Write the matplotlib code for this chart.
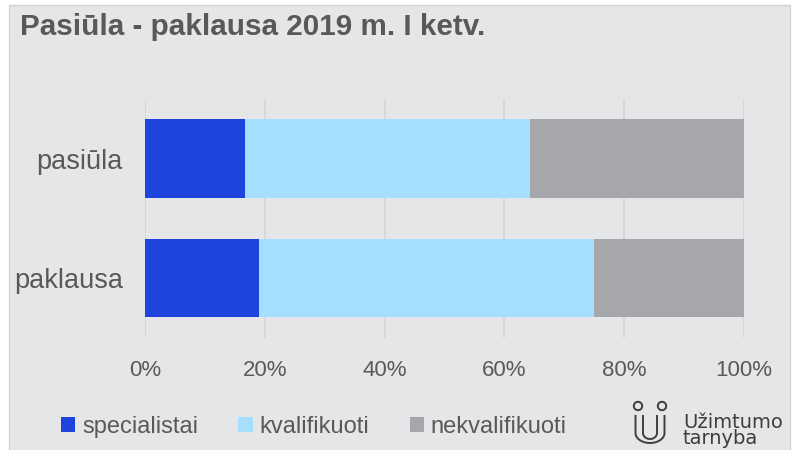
import matplotlib.pyplot as plt
from matplotlib.patches import Rectangle, Circle
import numpy as np

plt.rcParams['font.family'] = ['Liberation Sans', 'DejaVu Sans']

# data (shares, %)
categories = ['paklausa', 'pasiūla']
series = ['specialistai', 'kvalifikuoti', 'nekvalifikuoti']
specialistai = [19.0, 16.7]
kvalifikuoti = [56.0, 47.6]
nekvalifikuoti = [25.0, 35.7]
colors = ['#1F44DD', '#A6DEFE', '#A6A7AA']

W, H = 803, 450
fig = plt.figure(figsize=(W / 100, H / 100), dpi=100)
fig.patch.set_facecolor('white')

# background axes in pixel coordinates (chart frame + logo)
bg = fig.add_axes([0, 0, 1, 1], zorder=-1)
bg.set_xlim(0, W)
bg.set_ylim(H, 0)
bg.axis('off')
bg.add_patch(Rectangle((9.5, 4.5), 781, 450, facecolor='#E5E6E8',
                       edgecolor='#D2D3D5', lw=1))

# logo
lc = '#3E3E3E'
bg.add_patch(Circle((638, 406), 4.2, fill=False, ec=lc, lw=1.4))
bg.add_patch(Circle((662, 406), 4.2, fill=False, ec=lc, lw=1.4))
t = np.linspace(np.pi, 2 * np.pi, 30)
for r0, depth in [(14.5, 10), (7, 6)]:
    xs = np.concatenate([[650 - r0], 650 + r0 * np.cos(t), [650 + r0]])
    ys = np.concatenate([[415], 433 - depth * np.sin(t), [415]])
    bg.plot(xs, ys, color=lc, lw=1.4, solid_capstyle='butt')
bg.text(683, 430, 'Užimtumo\ntarnyba', fontsize=14, color=lc, va='center',
        family='DejaVu Sans', linespacing=0.8)

fig.text(20 / W, 1 - 27 / H, 'Pasiūla - paklausa 2019 m. I ketv.',
         fontsize=21.3, fontweight='bold', color='#595959', va='center')

ax = fig.add_axes([145 / W, 1 - 338 / H, 599 / W, 239 / H])
ax.set_facecolor('none')
y = np.arange(len(categories))
left = np.zeros(len(categories))
for vals, name, c in zip([specialistai, kvalifikuoti, nekvalifikuoti], series, colors):
    ax.barh(y, vals, left=left, height=0.66, color=c, label=name,
            linewidth=0, zorder=2)
    left += np.array(vals)

ax.set_xlim(0, 100)
ax.set_ylim(-0.502, 1.498)
ax.set_xticks(np.arange(0, 101, 20))
ax.set_xticklabels([f'{v}%' for v in range(0, 101, 20)])
ax.set_yticks(y)
ax.set_yticklabels(categories)
ax.tick_params(axis='x', length=0, pad=16, labelsize=16, labelcolor='#595959')
ax.tick_params(axis='y', length=0, pad=16, labelsize=19.5, labelcolor='#595959')
ax.grid(axis='x', color='#D6D7D9', lw=1.3, zorder=0)
for s in ax.spines.values():
    s.set_visible(False)

fig.legend(loc='center left', bbox_to_anchor=(61 / W, 1 - 427 / H), ncol=3,
           frameon=False, fontsize=17, labelcolor='#595959',
           handlelength=0.6, handleheight=0.6, handletextpad=0.3,
           columnspacing=1.7, borderaxespad=0, borderpad=0)

fig.savefig('out.png', dpi=100, facecolor=fig.get_facecolor())
